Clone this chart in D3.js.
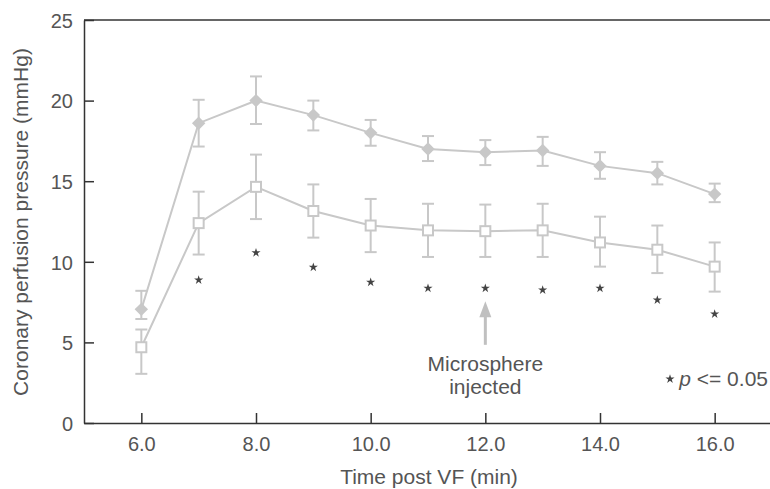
<!DOCTYPE html>
<html>
<head>
<meta charset="utf-8">
<script src="https://cdn.jsdelivr.net/npm/d3@7"></script>
<style>
  body { margin: 0; background: #fff; }
  svg { display: block; font-family: "Liberation Sans", Arial, sans-serif; }
</style>
</head>
<body>
<svg width="770" height="489"></svg>
<script>
// Data
const times = [6, 7, 8, 9, 10, 11, 12, 13, 14, 15, 16];

// filled diamonds
const diamondMean  = [7.05, 18.6, 20.0, 19.1, 18.0, 17.0, 16.8, 16.9, 15.95, 15.5, 14.2];
const diamondUpper = [8.2, 20.05, 21.5, 20.0, 18.8, 17.8, 17.55, 17.75, 16.8, 16.2, 14.85];
const diamondLower = [6.45, 17.15, 18.55, 18.15, 17.2, 16.25, 16.0, 15.95, 15.15, 14.8, 13.7];

// open squares
const squareMean  = [4.7, 12.4, 14.65, 13.15, 12.25, 11.95, 11.9, 11.95, 11.2, 10.75, 9.7];
const squareUpper = [5.8, 14.35, 16.65, 14.8, 13.9, 13.6, 13.55, 13.6, 12.8, 12.25, 11.2];
const squareLower = [3.05, 10.45, 12.65, 11.5, 10.6, 10.3, 10.3, 10.3, 9.7, 9.3, 8.15];

// significance markers
const sigTimes = [7, 8, 9, 10, 11, 12, 13, 14, 15, 16];
const sigY     = [8.87, 10.56, 9.66, 8.73, 8.36, 8.36, 8.25, 8.36, 7.63, 6.76];

const xTicks = [6, 8, 10, 12, 14, 16];
const yTicks = [0, 5, 10, 15, 20, 25];

const markerGrey = "#c8c8c8";
const axisColor = "#333";
const textColor = "#555";

const svg = d3.select("svg");

const x = d3.scaleLinear().domain([5, 17]).range([84, 772]);
const y = d3.scaleLinear().domain([0, 25]).range([423, 20]);

// top border
svg.append("line")
    .attr("x1", x(5)).attr("x2", x(17))
    .attr("y1", y(25)).attr("y2", y(25))
    .attr("stroke", axisColor)
    .attr("stroke-width", 1.5);

// axes
const xAxis = svg.append("g")
    .attr("transform", `translate(0,${y(0)})`)
    .call(d3.axisBottom(x).tickValues(xTicks).tickFormat(d3.format(".1f"))
      .tickSize(-10).tickSizeOuter(0).tickPadding(14));

const yAxis = svg.append("g")
    .attr("transform", `translate(${x(5)},0)`)
    .call(d3.axisLeft(y).tickValues(yTicks).tickFormat(d3.format("d"))
      .tickSize(-10).tickSizeOuter(0).tickPadding(11));

[xAxis, yAxis].forEach(g => {
  g.select(".domain").attr("stroke", axisColor).attr("stroke-width", 1.5);
  g.selectAll(".tick line").attr("stroke", axisColor).attr("stroke-width", 1.5);
  g.selectAll(".tick text")
      .attr("fill", textColor)
      .style("font-size", "20px")
      .style("font-family", "'Liberation Sans', Arial, sans-serif");
});
yAxis.selectAll(".tick text").attr("dy", "0.36em");

// axis titles
svg.append("text")
    .attr("x", 429)
    .attr("y", 484)
    .attr("text-anchor", "middle")
    .attr("fill", textColor)
    .style("font-size", "21px")
    .text("Time post VF (min)");

svg.append("text")
    .attr("transform", "translate(28,222) rotate(-90)")
    .attr("text-anchor", "middle")
    .attr("fill", textColor)
    .style("font-size", "21px")
    .text("Coronary perfusion pressure (mmHg)");

// helper to draw one series
function drawSeries(means, upper, lower, kind) {
  const pts = times.map((t, i) => ({ t, m: means[i], hi: upper[i], lo: lower[i] }));
  const g = svg.append("g");

  g.append("path")
      .datum(pts)
      .attr("fill", "none")
      .attr("stroke", markerGrey)
      .attr("stroke-width", 2)
      .attr("d", d3.line().x(d => x(d.t)).y(d => y(d.m)));

  const err = g.append("g")
      .attr("stroke", markerGrey)
      .attr("stroke-width", 2)
    .selectAll("g")
    .data(pts)
    .join("g");

  err.append("line")
      .attr("x1", d => x(d.t)).attr("x2", d => x(d.t))
      .attr("y1", d => y(d.hi)).attr("y2", d => y(d.lo));
  err.append("line")
      .attr("x1", d => x(d.t) - 6).attr("x2", d => x(d.t) + 6)
      .attr("y1", d => y(d.hi)).attr("y2", d => y(d.hi));
  err.append("line")
      .attr("x1", d => x(d.t) - 6).attr("x2", d => x(d.t) + 6)
      .attr("y1", d => y(d.lo)).attr("y2", d => y(d.lo));

  if (kind === "diamond") {
    g.selectAll("path.mark")
      .data(pts)
      .join("path")
        .attr("class", "mark")
        .attr("d", d3.symbol(d3.symbolSquare, 90)())
        .attr("transform", d => `translate(${x(d.t)},${y(d.m)}) rotate(45)`)
        .attr("fill", markerGrey);
  } else {
    g.selectAll("rect.mark")
      .data(pts)
      .join("rect")
        .attr("class", "mark")
        .attr("x", d => x(d.t) - 5)
        .attr("y", d => y(d.m) - 5)
        .attr("width", 10)
        .attr("height", 10)
        .attr("fill", "#fff")
        .attr("stroke", markerGrey)
        .attr("stroke-width", 2);
  }
}

drawSeries(squareMean, squareUpper, squareLower, "square");
drawSeries(diamondMean, diamondUpper, diamondLower, "diamond");

// significance stars
const star = d3.symbol(d3.symbolStar, 26);
svg.append("g")
  .selectAll("path")
  .data(sigTimes.map((t, i) => ({ t, v: sigY[i] })))
  .join("path")
    .attr("d", star())
    .attr("transform", d => `translate(${x(d.t)},${y(d.v)})`)
    .attr("fill", "#444");

// microsphere arrow
const arrowT = 12, arrowTip = 7.55, arrowBase = 4.85;
const ax = x(arrowT);
svg.append("line")
    .attr("x1", ax).attr("x2", ax)
    .attr("y1", y(arrowBase)).attr("y2", y(arrowTip) + 12)
    .attr("stroke", "#c0c0c0")
    .attr("stroke-width", 3);
svg.append("path")
    .attr("d", `M${ax},${y(arrowTip)} L${ax - 6},${y(arrowTip) + 16} L${ax + 6},${y(arrowTip) + 16} Z`)
    .attr("fill", "#c0c0c0");

const note = svg.append("text")
    .attr("text-anchor", "middle")
    .attr("fill", textColor)
    .style("font-size", "21px");
note.append("tspan").attr("x", ax).attr("y", 371).text("Microsphere");
note.append("tspan").attr("x", ax).attr("y", 394).text("injected");

// significance key
svg.append("path")
    .attr("d", star())
    .attr("transform", "translate(670,379)")
    .attr("fill", "#444");
const key = svg.append("text")
    .attr("x", 768)
    .attr("y", 386)
    .attr("text-anchor", "end")
    .attr("fill", textColor)
    .style("font-size", "21px");
key.append("tspan").style("font-style", "italic").text("p");
key.append("tspan").text(" <= 0.05");
</script>
</body>
</html>
